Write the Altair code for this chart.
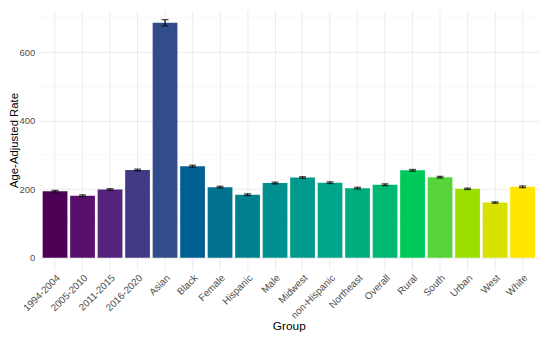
import altair as alt
import pandas as pd

groups = ["1994-2004", "2005-2010", "2011-2015", "2016-2020", "Asian", "Black",
          "Female", "Hispanic", "Male", "Midwest", "non-Hispanic", "Northeast",
          "Overall", "Rural", "South", "Urban", "West", "White"]
rates = [194, 181, 199, 256, 686, 267, 206, 184, 218, 234, 219, 203, 213, 255, 235, 201, 161, 207]
errors = [2.5, 2.5, 2.5, 2.5, 9, 3, 2.5, 2.5, 2.5, 2.5, 2.5, 2.5, 2.5, 2.5, 2.5, 2, 2, 2.5]
colors = ["#4B0055", "#580F6E", "#53237D", "#433A85", "#334C8A", "#005F92",
          "#00718F", "#00818F", "#00908F", "#00998B", "#00A58A", "#00AD7C",
          "#00B872", "#00C95A", "#58D43B", "#9ADF00", "#D8E200", "#FFE500"]
y_major = [0, 200, 400, 600]
y_minor = [100, 300, 500, 700]

df = pd.DataFrame({"Group": groups, "Rate": rates, "Err": errors})
df["lo"] = df["Rate"] - df["Err"]
df["hi"] = df["Rate"] + df["Err"]
minor = pd.DataFrame({"v": y_minor})

font = "Liberation Sans"
yscale = alt.Scale(domain=[-34.75, 722], nice=False, zero=False)
xscale = alt.Scale(domain=groups, paddingInner=0.1, paddingOuter=0.15)

xenc = alt.X("Group:N", scale=xscale, sort=groups,
             axis=alt.Axis(title="Group", labelAngle=-45, labelAlign="right",
                           labelBaseline="top", labelFontSize=10, labelColor="#4D4D4D",
                           labelFont=font, titleFont=font, titleFontSize=12,
                           titleFontWeight="normal", titleColor="#000000",
                           titleY=61, titleBaseline="alphabetic",
                           domain=False, ticks=False, grid=True, bandPosition=0.5,
                           gridColor="#EBEBEB", gridWidth=1, labelPadding=3))

minor_rules = alt.Chart(minor).mark_rule(color="#F3F3F3", strokeWidth=0.6).encode(
    y=alt.Y("v:Q", scale=yscale)
)

bars = alt.Chart(df).mark_bar().encode(
    x=xenc,
    y=alt.Y("Rate:Q", scale=yscale,
            axis=alt.Axis(title="Age-Adjusted Rate", values=y_major, labelFontSize=9.5,
                          labelColor="#4D4D4D", labelFont=font, titleFont=font,
                          titleFontSize=11.5, titleFontWeight="normal",
                          titleColor="#000000", domain=False, ticks=False,
                          titleX=-19, titleBaseline="bottom",
                          gridColor="#EBEBEB", gridWidth=1, labelPadding=4)),
    color=alt.Color("Group:N", scale=alt.Scale(domain=groups, range=colors), legend=None),
)

err = alt.Chart(df).mark_rule(color="black", strokeWidth=1.2).encode(
    x=alt.X("Group:N", scale=xscale, sort=groups),
    y=alt.Y("lo:Q", scale=yscale),
    y2="hi:Q",
)
cap_lo = alt.Chart(df).mark_tick(color="black", size=7, thickness=1.3, orient="horizontal").encode(
    x=alt.X("Group:N", scale=xscale, sort=groups),
    y=alt.Y("lo:Q", scale=yscale),
)
cap_hi = alt.Chart(df).mark_tick(color="black", size=7, thickness=1.3, orient="horizontal").encode(
    x=alt.X("Group:N", scale=xscale, sort=groups),
    y=alt.Y("hi:Q", scale=yscale),
)

chart = alt.layer(minor_rules, bars, err, cap_lo, cap_hi).properties(
    width=508, height=263,
    autosize=alt.AutoSizeParams(type="none"),
    padding={"left": 31, "top": 0, "right": 3, "bottom": 68},
).configure(background="white").configure_view(stroke=None)

chart.save("out.html", embed_options={"renderer": "svg", "actions": False})
